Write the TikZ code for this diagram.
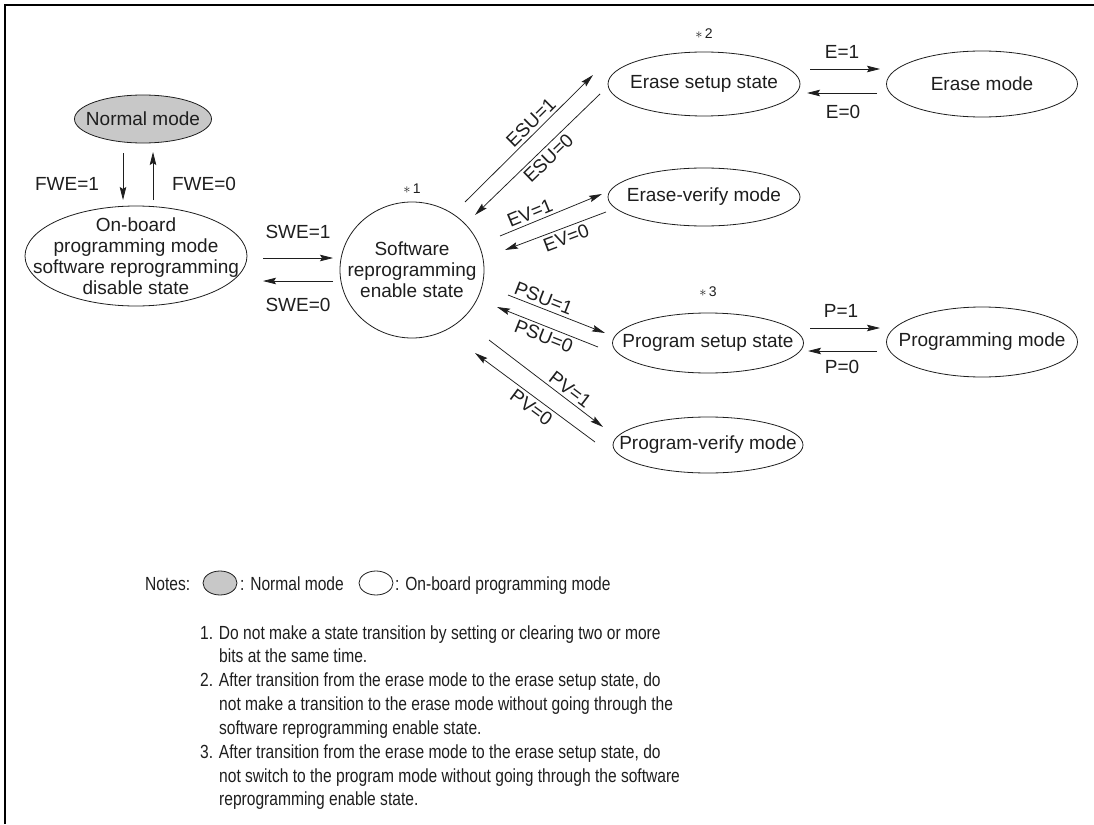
\documentclass[tikz,border=0pt]{standalone}
\usepackage{fontspec}
\setmainfont{Liberation Sans}
\newfontfamily\narrowfont[FakeStretch=0.82]{Liberation Sans}
\usetikzlibrary{shapes.geometric,arrows.meta}
\definecolor{normalgray}{RGB}{200,200,200}
\definecolor{ink}{RGB}{30,30,30}
\begin{document}
\begin{tikzpicture}[x=1pt,y=-1pt,
  st/.style={ellipse, draw=ink, line width=0.8pt, inner sep=0pt},
  txt/.style={align=center, inner sep=0pt, text=ink, font=\fontsize{19}{21}\selectfont},
  arr/.style={draw=ink, line width=0.75pt, -{Stealth[length=13pt,width=6.5pt,inset=2pt]}},
  lbl/.style={inner sep=0pt, text=ink, font=\fontsize{19}{21}\selectfont},
  slbl/.style={inner sep=3pt, text=ink, font=\fontsize{19}{21}\selectfont},
  ast/.style={inner sep=0pt, text=ink, font=\fontsize{14}{16}\selectfont},
  note/.style={anchor=base west, inner sep=0pt, text=ink, font=\narrowfont\fontsize{19}{21}\selectfont}]
\useasboundingbox (0,0) rectangle (1094,824);
\draw[line width=1.5pt] (5,824) -- (5,5) -- (1094,5);

% states
\node[st, fill=normalgray, minimum width=137pt, minimum height=48pt] (normal) at (143,119) {};
\node[txt] (normalT) at (normal) {Normal mode};
\node[st, minimum width=222pt, minimum height=100pt] (onboard) at (136,256) {};
\node[txt] (onboardT) at (onboard) {On-board\\programming mode\\software reprogramming\\disable state};
\node[st, minimum width=144pt, minimum height=136pt] (sw) at (412,270) {};
\node[txt] (swT) at (sw) {Software\\reprogramming\\enable state};
\node[ast] (a1) at (412,189) {$\ast$\,1};
\node[st, minimum width=192pt, minimum height=64pt] (esetup) at (704,84) {};
\node[txt] (esetupT) at (esetup) {Erase setup state};
\node[ast] (a2) at (704,34) {$\ast$\,2};
\node[st, minimum width=191pt, minimum height=66pt] (emode) at (982,84) {};
\node[txt] (emodeT) at (emode) {Erase mode};
\node[st, minimum width=192pt, minimum height=58pt] (everify) at (704,197) {};
\node[txt] (everifyT) at (everify) {Erase-verify mode};
\node[st, minimum width=191pt, minimum height=60pt] (psetup) at (708,343) {};
\node[txt] (psetupT) at (psetup) {Program setup state};
\node[ast] (a3) at (708,292) {$\ast$\,3};
\node[st, minimum width=191pt, minimum height=70pt] (pmode) at (982,342) {};
\node[txt] (pmodeT) at (pmode) {Programming mode};
\node[st, minimum width=190pt, minimum height=56pt] (pverify) at (708,445) {};
\node[txt] (pverifyT) at (pverify) {Program-verify mode};

% connector end points
\coordinate (f1a) at (123,153); \coordinate (f1b) at (123,200);
\coordinate (f0a) at (153,200); \coordinate (f0b) at (153,152);
\coordinate (s1a) at (263,258); \coordinate (s1b) at (333,258);
\coordinate (s0a) at (333,281); \coordinate (s0b) at (263,281);
\coordinate (esu1a) at (465,202); \coordinate (esu1b) at (593,75);
\coordinate (esu0a) at (600,94); \coordinate (esu0b) at (475,215);
\coordinate (ev1a) at (500,236); \coordinate (ev1b) at (602,194);
\coordinate (ev0a) at (606,212); \coordinate (ev0b) at (505,250);
\coordinate (psu1a) at (508,295); \coordinate (psu1b) at (605,333);
\coordinate (psu0a) at (598,347); \coordinate (psu0b) at (497,307);
\coordinate (pv1a) at (489,340); \coordinate (pv1b) at (603,427);
\coordinate (pv0a) at (595,442); \coordinate (pv0b) at (475,353);
\coordinate (e1a) at (810,69); \coordinate (e1b) at (880,69);
\coordinate (e0a) at (877,93); \coordinate (e0b) at (807,93);
\coordinate (p1a) at (810,328); \coordinate (p1b) at (880,328);
\coordinate (p0a) at (877,351); \coordinate (p0b) at (808,351);

% transitions
\draw[arr] (f1a) -- (f1b);
\node[lbl] (lf1) at (67,184) {FWE=1};
\draw[arr] (f0a) -- (f0b);
\node[lbl] (lf0) at (204,184) {FWE=0};
\draw[arr] (s1a) -- (s1b);
\node[lbl] (ls1) at (298,232) {SWE=1};
\draw[arr] (s0a) -- (s0b);
\node[lbl] (ls0) at (298,305) {SWE=0};
\draw[arr] (esu1a) -- node[slbl, sloped, above, pos=0.57] (lesu1) {ESU=1} (esu1b);
\draw[arr] (esu0a) -- node[slbl, sloped, below, pos=0.47] (lesu0) {ESU=0} (esu0b);
\draw[arr] (ev1a) -- node[slbl, sloped, above, pos=0.33] (lev1) {EV=1} (ev1b);
\draw[arr] (ev0a) -- node[slbl, sloped, below, pos=0.43] (lev0) {EV=0} (ev0b);
\draw[arr] (psu1a) -- node[slbl, sloped, above, pos=0.33] (lpsu1) {PSU=1} (psu1b);
\draw[arr] (psu0a) -- node[slbl, sloped, below, pos=0.5] (lpsu0) {PSU=0} (psu0b);
\draw[arr] (pv1a) -- node[slbl, sloped, above, pos=0.66] (lpv1) {PV=1} (pv1b);
\draw[arr] (pv0a) -- node[slbl, sloped, below, pos=0.48] (lpv0) {PV=0} (pv0b);
\draw[arr] (e1a) -- (e1b);
\node[lbl] (le1) at (842,52) {E=1};
\draw[arr] (e0a) -- (e0b);
\node[lbl] (le0) at (843,112) {E=0};
\draw[arr] (p1a) -- (p1b);
\node[lbl] (lp1) at (841,311) {P=1};
\draw[arr] (p0a) -- (p0b);
\node[lbl] (lp0) at (842,367) {P=0};

% legend
\node[note] (notes) at (145,590) {Notes:};
\node[st, fill=normalgray, minimum width=34pt, minimum height=24pt] (legN) at (220,583) {};
\node[note] (legNT) at (240,590) {: Normal mode};
\node[st, minimum width=34pt, minimum height=24pt] (legO) at (376,583) {};
\node[note] (legOT) at (395,590) {: On-board programming mode};

% notes
\node[note] (n1) at (200,639) {1. Do not make a state transition by setting or clearing two or more};
\node[note] (n1b) at (219,662) {bits at the same time.};
\node[note] (n2) at (200,686) {2. After transition from the erase mode to the erase setup state, do};
\node[note] (n2b) at (219,710) {not make a transition to the erase mode without going through the};
\node[note] (n2c) at (219,734) {software reprogramming enable state.};
\node[note] (n3) at (200,758) {3. After transition from the erase mode to the erase setup state, do};
\node[note] (n3b) at (219,782) {not switch to the program mode without going through the software};
\node[note] (n3c) at (219,805) {reprogramming enable state.};
\end{tikzpicture}
\end{document}
